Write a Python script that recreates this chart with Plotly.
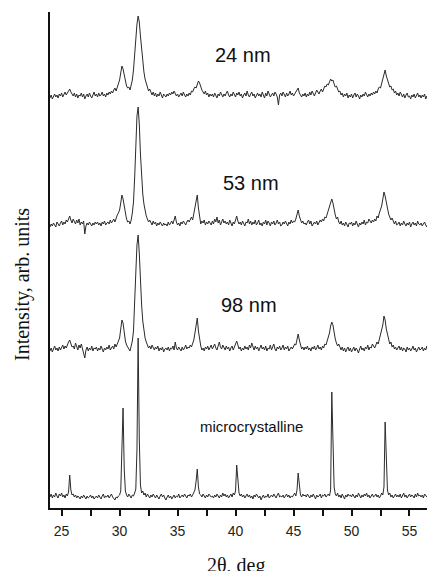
import plotly.graph_objects as go

# 2-theta grid (deg): starts at 24.0, step 0.1
theta_start = 24.0
theta_step = 0.1

# Intensities (arb. units), one row = 2 deg (24.0 .. 57.2)
micro = [
    2, 5, 1, 4, 2, 6, 3, 1, 5, 3, 6, 2, 4, 1, 5, 3, 7, 24, 9, 4,
    5, 2, 4, 1, 3, 2, 0, 3, 1, 4, 2, 0, 3, 1, 2, 4, 1, 3, 0, 2,
    3, 1, 4, 2, 0, 3, 5, 1, 3, 2, 4, 1, 3, 5, 2, 0, -1, 2, 1, 3,
    4, 8, 60, 91, 30, 8, 4, 2, 5, 3, 1, 4, 3, 6, 10, 50, 161, 60, 14, 6,
    8, 4, 6, 2, 5, 3, 1, 4, 2, 5, 3, 1, 4, 2, 0, 3, 5, 2, 4, 1,
    -1, 2, 4, 1, 3, 0, 2, 4, 1, 3, 2, 5, 1, 3, 4, 2, 5, 3, 1, 4,
    3, 5, 2, 4, 6, 9, 18, 30, 12, 5, 4, 2, 5, 3, 1, 4, 2, 5, 3, 2,
    3, 1, 4, 2, 5, 3, 1, 4, 2, 6, 3, 5, 2, 4, 1, 3, 5, 2, 6, 4,
    8, 34, 14, 6, 3, 5, 2, 4, 1, 3, 5, 2, 4, 1, 3, 0, 4, 2, 5, 3,
    1, 3, -1, 2, 4, 1, 3, 2, 5, 1, 3, 4, 2, 5, 3, 1, 4, 6, 2, 3,
    2, 4, 1, 3, 5, 2, 4, 1, 3, 2, 4, 6, 3, 9, 26, 10, 4, 2, 5, 3,
    4, 2, 5, 3, 1, 4, 2, 5, 3, 0, 4, 2, 3, 5, 1, 4, 3, 5, 2, 4,
    5, 3, 9, 107, 40, 12, 5, 3, 6, 2, 4, 1, 5, 3, 0, 4, 2, 5, 3, 4,
    2, 5, 3, 1, 4, 2, 6, 3, 1, 4, 2, 5, 3, 6, 2, 4, 1, 3, 5, 2,
    3, 5, 2, 4, 1, 3, 6, 4, 12, 77, 32, 9, 4, 6, 2, 4, 1, 3, 5, 2,
    4, 2, 5, 1, 3, 6, 2, 4, 1, 3, 5, 2, 4, 3, 1, 5, 2, 6, 3, 4,
    2, 4, 1, 5, 3, 2, 4, 1, 3, 5, 2, 4, 3,
]

nm98 = [
    2, 5, 1, 4, 7, 3, 5, 2, 6, 3, 5, 8, 4, 7, 5, 9, 11, 13, 9, 6,
    7, 4, 10, 6, 3, 8, 5, 9, 4, 2, -5, 3, 6, 2, 5, 3, 7, 2, 5, 4,
    6, 2, 5, 3, 7, 4, 1, 5, 3, 6, 4, 8, 3, 5, 7, 4, 9, 6, 10, 12,
    15, 22, 33, 30, 20, 12, 8, 5, 4, 2, 6, 12, 22, 45, 80, 108, 118, 100, 70, 48,
    32, 22, 15, 11, 8, 5, 7, 4, 8, 5, 3, 6, 4, 7, 2, 5, 3, 6, 1, 4,
    5, 3, 6, 2, 5, 4, 7, 3, 11, 5, 3, 6, 4, 2, 6, 3, 5, 8, 4, 6,
    5, 8, 6, 10, 13, 20, 30, 35, 22, 12, 7, 3, 5, 2, 6, 4, 7, 3, 5, 8,
    4, 6, 9, 5, 3, 7, 11, 6, 4, 8, 5, 3, 7, 4, 6, 2, 5, 7, 3, 6,
    7, 12, 8, 4, 6, 2, 5, 3, 7, 4, 6, 3, 8, 5, 10, 6, 3, 7, 4, 6,
    2, 5, 8, 4, 6, 3, 7, 2, 5, 4, 8, 3, 6, 9, 4, 2, 6, 4, 7, 3,
    5, 8, 3, 6, 4, 7, 2, 5, 6, 4, 7, 9, 8, 14, 19, 13, 7, 4, 6, 3,
    6, 4, 7, 3, 5, 2, 6, 4, 7, 3, 5, 8, 4, 6, 3, 7, 5, 9, 8, 12,
    15, 20, 27, 31, 28, 20, 14, 10, 7, 9, 5, 3, 6, 2, 5, 1, 4, 6, 2, 5,
    1, 4, 6, 2, 5, 3, 0, 4, 7, 3, 5, 2, 6, 4, 8, 3, 6, 5, 9, 7,
    5, 8, 11, 9, 14, 16, 21, 28, 37, 33, 24, 18, 12, 9, 11, 6, 8, 4, 6, 3,
    5, 7, 3, 6, 2, 5, 4, 1, 6, 3, 5, 2, 4, 7, 3, 5, 1, 4, 6, 3,
    4, 6, 2, 5, 3, 7, 2, 4, 0, 3, 5, 2, 4,
]

nm53 = [
    1, 4, 2, 5, 3, 1, 6, 4, 2, 5, 7, 3, 6, 4, 8, 6, 10, 12, 8, 5,
    9, 6, 4, 8, 5, 9, 3, 6, 4, 7, -6, 2, 5, 3, 6, 4, 2, 5, 3, 6,
    4, 6, 3, 5, 2, 6, 4, 7, 3, 5, 6, 4, 8, 5, 7, 9, 6, 10, 13, 15,
    18, 25, 33, 29, 21, 13, 9, 6, 7, 4, 8, 15, 26, 50, 86, 112, 121, 104, 74, 50,
    34, 24, 16, 12, 9, 6, 8, 5, 3, 7, 4, 6, 2, 5, 3, 6, 4, 2, 5, 3,
    4, 2, 6, 3, 5, 7, 4, 8, 12, 6, 3, 5, 2, 6, 4, 7, 5, 3, 6, 8,
    6, 9, 11, 8, 14, 19, 28, 33, 20, 10, 4, 7, 5, 8, 3, 6, 4, 7, 5, 3,
    7, 4, 9, 6, 11, 5, 8, 3, 6, 9, 5, 7, 4, 6, 3, 8, 5, 2, 6, 4,
    8, 12, 7, 4, 6, 3, 7, 5, 2, 6, 5, 9, 4, 7, 3, 6, 4, 8, 3, 5,
    8, 3, 5, 2, 6, 4, 8, 3, 7, 5, 2, 6, 4, 7, 3, 5, 8, 4, 6, 2,
    3, 6, 4, 7, 5, 2, 6, 4, 8, 5, 7, 6, 9, 13, 18, 12, 8, 5, 7, 4,
    5, 3, 6, 8, 4, 7, 2, 5, 6, 4, 7, 3, 5, 8, 6, 9, 7, 11, 10, 14,
    17, 21, 26, 29, 25, 18, 13, 9, 11, 6, 4, 7, 3, 5, 2, 6, 3, 1, 5, 4,
    6, 2, 5, 3, 7, 4, 1, 5, 3, 6, 4, 8, 3, 6, 5, 9, 7, 5, 8, 6,
    9, 7, 12, 10, 15, 18, 22, 29, 36, 32, 26, 19, 14, 11, 8, 10, 6, 4, 7, 3,
    4, 6, 2, 5, 3, 7, 4, 2, 5, 3, 6, 1, 4, 6, 3, 5, 2, 7, 4, 3,
    5, 2, 4, 6, 3, 1, 5, 3, 6, 2, 4, 5, 3,
]

nm24 = [
    2, 5, 1, 4, 6, 3, 5, 2, 6, 4, 7, 3, 6, 8, 5, 7, 9, 11, 8, 6,
    4, 7, 3, 6, 2, 5, 4, 7, 3, 6, 1, 4, 6, 3, 7, 4, 2, 5, 8, 4,
    6, 3, 7, 4, 5, 8, 4, 6, 3, 7, 5, 8, 6, 9, 7, 10, 12, 9, 13, 16,
    20, 27, 34, 31, 24, 17, 14, 12, 13, 10, 14, 20, 30, 46, 64, 76, 84, 78, 64, 50,
    36, 28, 21, 16, 12, 9, 11, 7, 5, 8, 4, 7, 3, 6, 4, 8, 5, 2, 6, 4,
    3, 6, 4, 7, 5, 8, 6, 9, 7, 4, 6, 3, 5, 7, 4, 8, 5, 3, 6, 4,
    7, 5, 9, 8, 11, 13, 12, 16, 19, 17, 13, 10, 8, 6, 9, 5, 7, 3, 6, 4,
    6, 3, 7, 5, 2, 6, 4, 8, 5, 3, 6, 4, 7, 9, 5, 3, 6, 4, 8, 5,
    3, 7, 5, 8, 4, 6, 2, 5, 7, 4, 9, 5, 3, 6, 8, 4, 6, 2, 5, 7,
    4, 6, 3, 8, 5, 2, 7, 4, 9, 6, 3, 5, 7, 4, 8, 6, 3, -5, 5, 7,
    4, 8, 5, 3, 7, 4, 6, 9, 5, 7, 4, 6, 8, 10, 12, 7, 5, 3, 6, 4,
    7, 3, 6, 4, 8, 5, 9, 6, 4, 7, 10, 8, 6, 9, 11, 8, 12, 14, 13, 16,
    15, 18, 21, 19, 20, 16, 13, 14, 10, 8, 9, 5, 7, 3, 6, 4, 7, 2, 5, 3,
    6, 2, 5, 7, 3, 6, 4, 1, 5, 3, 6, 4, 8, 5, 3, 6, 4, 7, 5, 8,
    6, 9, 7, 11, 13, 12, 16, 21, 26, 30, 24, 20, 16, 13, 14, 10, 11, 7, 9, 5,
    7, 4, 8, 5, 3, 6, 2, 5, 7, 3, 4, 1, 5, 3, 6, 2, 4, 7, 3, 5,
    2, 5, 3, 6, 1, 4, 2, 5, 3, 1, 4, 6, 2,
]

series_names = ["microcrystalline", "98 nm", "53 nm", "24 nm"]
series_values = [micro, nm98, nm53, nm24]
series_offsets = [9, 155, 280, 408]  # vertical stacking offsets (arb. units)
label_x = [41.4, 41.16, 41.34, 40.64]
label_y = [82, 203, 325, 453]

x_ticks = [25, 30, 35, 40, 45, 50, 55]
x_tick_labels = ["25", "30", "35", "40", "45", "50", "55"]

fig = go.Figure()
for name, vals, off in zip(series_names, series_values, series_offsets):
    theta = [round(theta_start + theta_step * i, 2) for i in range(len(vals))]
    fig.add_trace(go.Scatter(
        x=theta, y=[v + off for v in vals], mode="lines", name=name,
        line=dict(color="#2b2b2b", width=1), showlegend=False,
    ))

for name, lx, ly in zip(series_names, label_x, label_y):
    small = name == "microcrystalline"
    fig.add_annotation(
        x=lx, y=ly, xref="x", yref="y", text=name, showarrow=False,
        font=dict(family="Liberation Sans, Arial, sans-serif",
                  size=15 if small else 20, color="#111"),
    )

serif = "Liberation Serif, Times New Roman, serif"
fig.add_annotation(
    x=(236 - 50) / 385, y=(508 - 565) / 496, xref="paper", yref="paper",
    text="2θ, deg", showarrow=False, xanchor="center", yanchor="middle",
    font=dict(family=serif, size=20, color="#111"),
)
fig.add_annotation(
    x=(22 - 50) / 385, y=(508 - 285) / 496, xref="paper", yref="paper",
    text="Intensity, arb. units", showarrow=False, textangle=-90,
    xanchor="center", yanchor="middle",
    font=dict(family=serif, size=20, color="#111"),
)

# The page has an 8px body margin; the figure is sized so the plot area lands
# at the same spot as the reference (plot area 385 x 496 px).
fig.update_layout(
    width=427, height=563,
    margin=dict(l=42, r=0, t=4, b=63),
    paper_bgcolor="white", plot_bgcolor="white",
    xaxis=dict(
        range=[24.0, 57.2], showline=True, linewidth=2, linecolor="#111",
        ticks="outside", ticklen=6, tickwidth=1.5, tickcolor="#111",
        tickvals=x_ticks, ticktext=x_tick_labels, ticklabelstandoff=3,
        tickfont=dict(family="Liberation Sans, Arial, sans-serif", size=14, color="#222"),
        minor=dict(ticks="outside", ticklen=6, tickwidth=1.5, tickcolor="#111",
                   tick0=27.5, dtick=5, showgrid=False),
        showgrid=False, zeroline=False, mirror=False, automargin=False,
    ),
    yaxis=dict(
        range=[0, 496], showline=True, linewidth=2, linecolor="#111",
        ticks="", showticklabels=False, showgrid=False, zeroline=False,
        automargin=False,
    ),
)

fig.write_html("out.html")
